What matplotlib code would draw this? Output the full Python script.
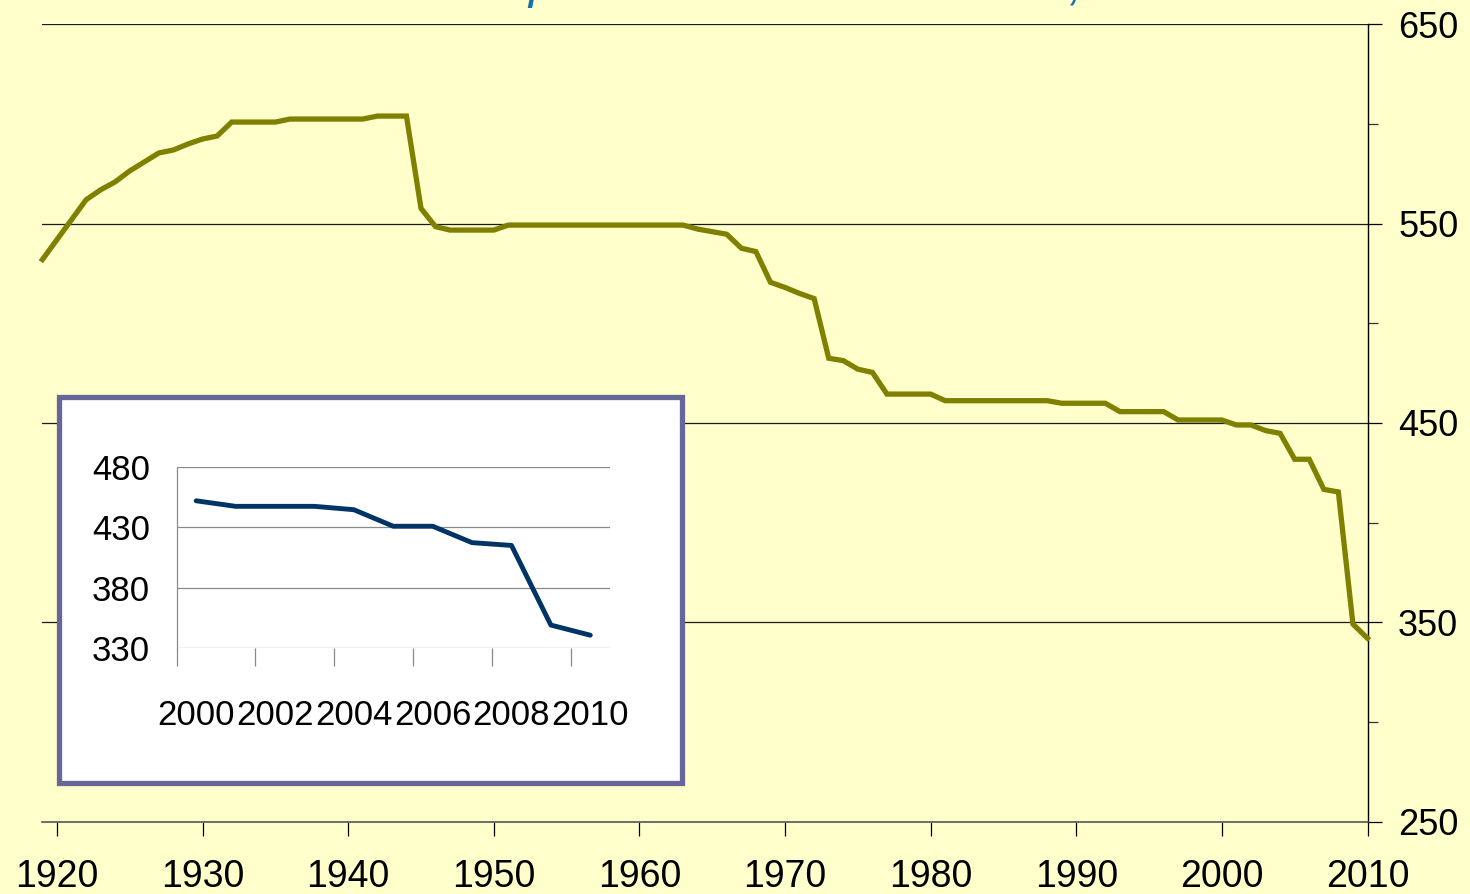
import matplotlib
matplotlib.use("Agg")
import matplotlib.pyplot as plt
from matplotlib.patches import Rectangle
from matplotlib.ticker import FixedLocator, NullFormatter

# ---------------- data ----------------
years = list(range(1919, 2011))
values = [
    532, 542, 552, 562, 567, 571, 576.5, 581, 585.5, 587,      # 1919-1928
    590, 592.5, 594, 601, 601, 601, 601, 602.5, 602.5, 602.5,  # 1929-1938
    602.5, 602.5, 602.5, 604, 604, 604, 557.7, 548.5, 546.8, 546.8,  # 1939-1948
    546.8, 546.8, 549.3, 549.3, 549.3, 549.3, 549.3, 549.3, 549.3, 549.3,  # 1949-1958
    549.3, 549.3, 549.3, 549.3, 549.3, 547.3, 546, 544.7, 537.7, 536,  # 1959-1968
    520.6, 518, 515, 512.4, 482.5, 481.3, 477, 475.4, 464.5, 464.5,  # 1969-1978
    464.5, 464.5, 461.2, 461.2, 461.2, 461.2, 461.2, 461.2, 461.2, 461.2,  # 1979-1988
    459.9, 459.9, 459.9, 459.9, 455.7, 455.7, 455.7, 455.7, 451.5, 451.5,  # 1989-1998
    451.5, 451.5, 449, 449, 446.2, 444.8, 431.8, 431.8, 416.7, 415.4,  # 1999-2008
    349.1, 342,                                                  # 2009-2010
]
x_ticks = [1920, 1930, 1940, 1950, 1960, 1970, 1980, 1990, 2000, 2010]
y_ticks = [250, 350, 450, 550, 650]
y_minor = [300, 400, 500, 600]

inset_years = ["2000", "2001", "2002", "2003", "2004", "2005",
               "2006", "2007", "2008", "2009", "2010"]
inset_values = [452, 447.4, 447.4, 447.4, 444.6, 430.9, 430.9, 417.3, 415, 349, 340.6]
inset_y_ticks = [330, 380, 430, 480]

# ---------------- styling ----------------
BG = "#FFFFCC"
OLIVE = "#808000"
NAVY = "#003366"
W, H = 1470, 894

fig = plt.figure(figsize=(W / 100, H / 100), dpi=100, facecolor=BG)

# clipped title fragments at very top
fig.text(528 / W, 1.0 + 1.5 / H, "p", fontsize=36, style="italic", color="#1B6FAE",
         family=["Liberation Sans", "DejaVu Sans"], ha="left", va="baseline")
fig.text(1068 / W, 1.0 + 1.5 / H, ",", fontsize=36, style="italic", color="#1B6FAE",
         family=["Liberation Sans", "DejaVu Sans"], ha="left", va="baseline")

# main axes
L, R, T, B = 42.4, 1367.5, 24.4, 821.6
ax = fig.add_axes([L / W, (H - B) / H, (R - L) / W, (B - T) / H])
ax.set_facecolor(BG)
ax.plot(years, values, color=OLIVE, lw=3.8, solid_joinstyle="miter", zorder=3, clip_on=False)
ax.set_xlim(1919, 2010)
ax.set_ylim(250, 650)

ax.yaxis.tick_right()
ax.set_yticks(y_ticks)
ax.yaxis.set_minor_locator(FixedLocator(y_minor))
ax.yaxis.set_minor_formatter(NullFormatter())
ax.set_xticks(x_ticks)
ax.tick_params(axis="y", which="major", direction="out", length=10, width=0.9,
               pad=12, labelsize=26, colors="black")
ax.tick_params(axis="y", which="minor", direction="out", length=7, width=0.9, colors="#333333")
ax.tick_params(axis="x", which="major", direction="out", length=10, width=0.9,
               pad=17, labelsize=27, colors="black")
for lab in ax.get_xticklabels() + ax.get_yticklabels():
    lab.set_family(["Liberation Sans", "DejaVu Sans"])

for gv in y_ticks[1:]:
    ax.axhline(gv, color="#1a1a1a", lw=0.9, zorder=1)

ax.spines["left"].set_visible(False)
ax.spines["top"].set_visible(False)
ax.spines["right"].set_color("black")
ax.spines["right"].set_linewidth(1.0)
ax.spines["bottom"].set_color("#555555")
ax.spines["bottom"].set_linewidth(1.2)

# inset frame
fig.patches.append(Rectangle((59 / W, (H - 783) / H), (682 - 59) / W, (783 - 397) / H,
                             transform=fig.transFigure, facecolor="white",
                             edgecolor="#666699", lw=3.8, zorder=5))

iL, iR, iT, iB = 176.5, 610, 467, 648
iax = fig.add_axes([iL / W, (H - iB) / H, (iR - iL) / W, (iB - iT) / H], zorder=6)
iax.set_facecolor("white")
pos = [i + 0.5 for i in range(len(inset_values))]
iax.plot(pos, inset_values, color=NAVY, lw=3.5, solid_capstyle="round",
         solid_joinstyle="round", zorder=3)
iax.set_xlim(0, len(inset_values))
iax.set_ylim(330, 480)
iax.set_yticks(inset_y_ticks)
for gv in inset_y_ticks:
    iax.axhline(gv, color="#8a8a8a", lw=0.9, zorder=1)
iax.set_xticks(range(0, len(inset_values), 2))
iax.set_xticklabels([])
iax.xaxis.set_minor_locator(FixedLocator(pos[::2]))
iax.set_xticklabels(inset_years[::2], minor=True)
iax.tick_params(axis="x", which="major", direction="out", length=13, width=0.9, colors="#8a8a8a")
iax.tick_params(axis="x", which="minor", length=0, pad=37, labelsize=25, labelcolor="black")
iax.tick_params(axis="y", length=0, pad=19, labelsize=25, labelcolor="black")
for lab in iax.get_xticklabels(minor=True) + iax.get_yticklabels():
    lab.set_family(["Liberation Sans Narrow", "Liberation Sans", "DejaVu Sans"])
for s in ["top", "right", "bottom"]:
    iax.spines[s].set_visible(False)
iax.spines["left"].set_color("#8a8a8a")
iax.spines["left"].set_linewidth(0.9)

fig.savefig("out.png", dpi=100, facecolor=BG)
